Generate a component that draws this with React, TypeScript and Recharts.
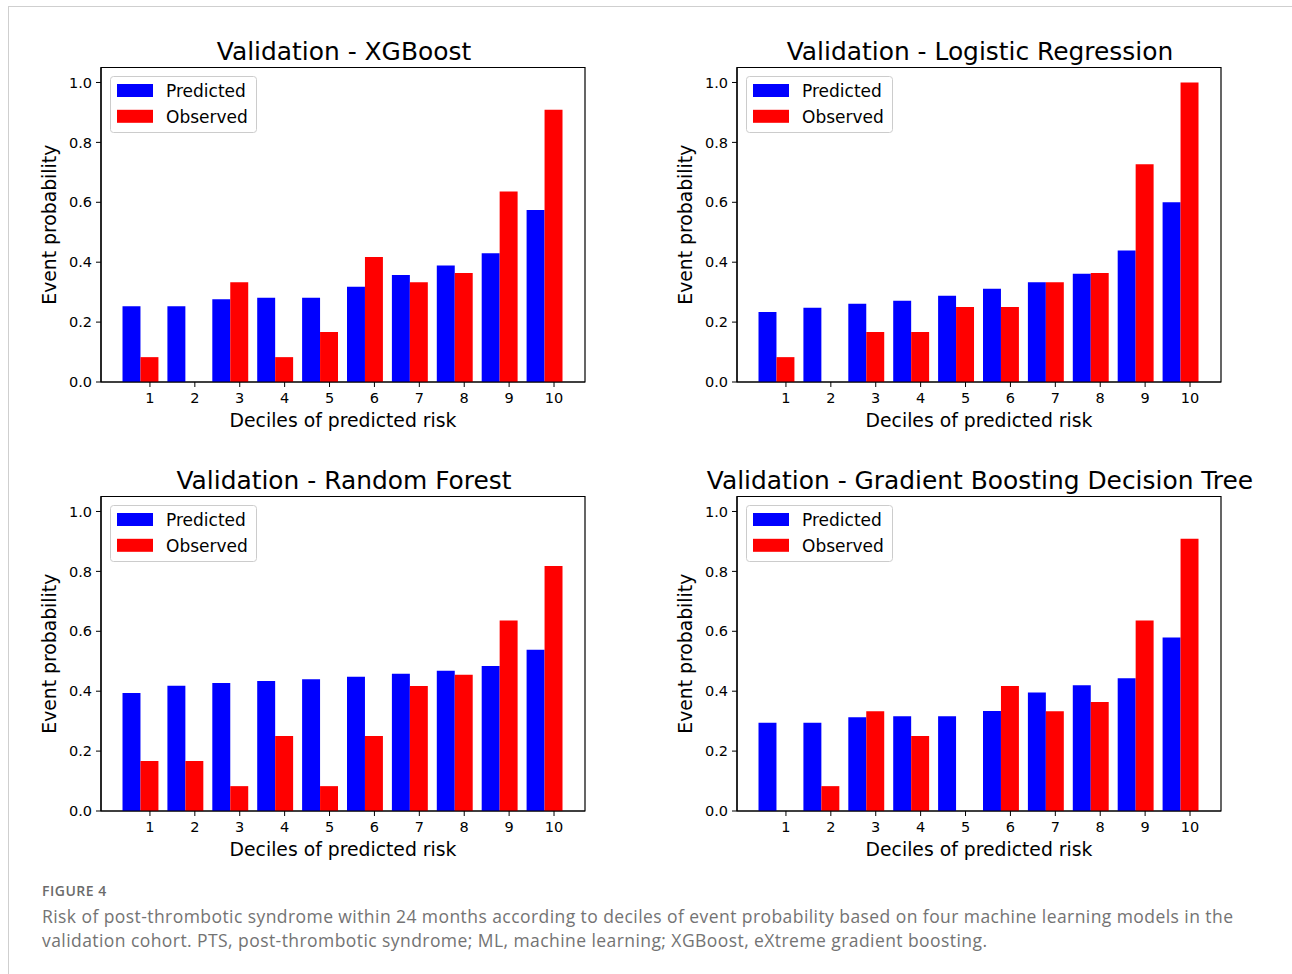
import React from "react";
import { BarChart, Bar, XAxis, YAxis, Legend, ReferenceArea } from "recharts";

// deciles of predicted risk and y ticks
const DECILES = [1, 2, 3, 4, 5, 6, 7, 8, 9, 10];
const Y_TICKS = [0, 0.2, 0.4, 0.6, 0.8, 1.0];

// values
const XGB_PRED = [0.253, 0.253, 0.276, 0.281, 0.281, 0.318, 0.357, 0.389, 0.43, 0.574];
const XGB_OBS = [0.083, 0, 0.333, 0.083, 0.167, 0.417, 0.333, 0.364, 0.636, 0.909];
const LR_PRED = [0.234, 0.248, 0.261, 0.271, 0.288, 0.311, 0.333, 0.361, 0.439, 0.6];
const LR_OBS = [0.083, 0, 0.167, 0.167, 0.25, 0.25, 0.333, 0.364, 0.727, 1.0];
const RF_PRED = [0.394, 0.418, 0.427, 0.434, 0.44, 0.448, 0.458, 0.468, 0.484, 0.538];
const RF_OBS = [0.167, 0.167, 0.083, 0.25, 0.083, 0.25, 0.417, 0.455, 0.636, 0.818];
const GBDT_PRED = [0.295, 0.295, 0.313, 0.316, 0.316, 0.334, 0.396, 0.42, 0.443, 0.579];
const GBDT_OBS = [0, 0.083, 0.333, 0.25, 0, 0.417, 0.333, 0.364, 0.636, 0.909];

const SERIES = [
  { key: "predicted", name: "Predicted", color: "#0000ff" },
  { key: "observed", name: "Observed", color: "#ff0000" },
];

const FONT = "'DejaVu Sans', sans-serif";
const X_DOMAIN: [number, number] = [-0.09, 10.69];
const Y_DOMAIN: [number, number] = [0, 1.05];

const CHART_W = 650;
const CHART_H = 440;
const MARGIN = { top: 67.5, right: 65, bottom: 18, left: 41 };
const Y_AXIS_W = 60;
const X_AXIS_H = 40;
const PLOT_W = CHART_W - MARGIN.left - Y_AXIS_W - MARGIN.right;
// matplotlib bars are 0.4 data units wide
const BAR_W = (PLOT_W / (X_DOMAIN[1] - X_DOMAIN[0])) * 0.4;

const SPINE = { stroke: "#000", strokeWidth: 1.2 };
const TICK = { fill: "#000", fontSize: 14.5, fontFamily: FONT };

// blue bar sits at decile - 0.4, red bar at decile: the pair is centred at decile - 0.2
const makeRows = (pred: number[], obs: number[]) =>
  DECILES.map((d, i) => ({ pos: d - 0.2, predicted: pred[i], observed: obs[i] }));

const PANELS = [
  { title: "Validation - XGBoost", pred: XGB_PRED, obs: XGB_OBS, left: 0, top: 0 },
  { title: "Validation - Logistic Regression", pred: LR_PRED, obs: LR_OBS, left: 636, top: 0 },
  { title: "Validation - Random Forest", pred: RF_PRED, obs: RF_OBS, left: 0, top: 429 },
  { title: "Validation - Gradient Boosting Decision Tree", pred: GBDT_PRED, obs: GBDT_OBS, left: 636, top: 429 },
];

function LegendBox({ payload }: any) {
  const order = SERIES.map((s) => s.name);
  const items = [...(payload || [])].sort((a: any, b: any) => order.indexOf(a.value) - order.indexOf(b.value));
  return (
    <svg width={147} height={57} style={{ display: "block" }}>
      <rect x={0.5} y={0.5} width={146} height={56} rx={3} fill="rgba(255,255,255,0.8)" stroke="#cccccc" />
      {items.map((p: any, i: number) => (
        <g key={p.value}>
          <rect x={7} y={8 + i * 25.8} width={36} height={13} fill={p.color} />
          <text x={56} y={20.7 + i * 25.8} fontSize={17} fontFamily={FONT} fill="#000">
            {p.value}
          </text>
        </g>
      ))}
    </svg>
  );
}

function Panel({ title, pred, obs }: { title: string; pred: number[]; obs: number[] }) {
  const rows = makeRows(pred, obs);
  return (
    <BarChart width={CHART_W} height={CHART_H} data={rows} margin={MARGIN} barGap={0}>
      <XAxis
        dataKey="pos"
        type="number"
        domain={X_DOMAIN}
        ticks={DECILES}
        allowDataOverflow
        height={X_AXIS_H}
        tickSize={5}
        tickMargin={6}
        tick={TICK}
        tickLine={{ stroke: "#000" }}
        axisLine={SPINE}
        label={(props: any) => {
          const vb = props.viewBox;
          return (
            <text x={vb.x + vb.width / 2} y={vb.y + 44.5} textAnchor="middle" fontSize={18.8} fontFamily={FONT} fill="#000">
              Deciles of predicted risk
            </text>
          );
        }}
      />
      <YAxis
        type="number"
        domain={Y_DOMAIN}
        ticks={Y_TICKS}
        allowDataOverflow
        width={Y_AXIS_W}
        tickSize={5}
        tickMargin={4}
        tick={TICK}
        tickLine={{ stroke: "#000" }}
        tickFormatter={(v: number) => v.toFixed(1)}
        axisLine={SPINE}
        label={(props: any) => {
          const vb = props.viewBox;
          const x = vb.x + 14.5;
          const y = vb.y + vb.height / 2;
          return (
            <text x={x} y={y} transform={`rotate(-90, ${x}, ${y})`} textAnchor="middle" fontSize={18.8} fontFamily={FONT} fill="#000">
              Event probability
            </text>
          );
        }}
      />
      {/* axes frame (all four spines) with the panel title above it */}
      <ReferenceArea
        x1={X_DOMAIN[0]}
        x2={X_DOMAIN[1]}
        y1={Y_DOMAIN[0]}
        y2={Y_DOMAIN[1]}
        ifOverflow="visible"
        fill="none"
        fillOpacity={0}
        stroke="#000"
        strokeWidth={1.2}
        label={(props: any) => {
          const vb = props.viewBox;
          return (
            <text x={vb.x + vb.width / 2 + 1} y={vb.y - 8} textAnchor="middle" fontSize={24.9} fontFamily={FONT} fill="#000">
              {title}
            </text>
          );
        }}
      />
      <Legend
        layout="vertical"
        align="center"
        verticalAlign="middle"
        wrapperStyle={{ left: 109.5, top: 75.5, width: 147, height: 57 }}
        content={(p: any) => <LegendBox payload={p.payload} />}
      />
      {SERIES.map((s) => (
        <Bar key={s.key} dataKey={s.key} name={s.name} fill={s.color} barSize={BAR_W} isAnimationActive={false} />
      ))}
    </BarChart>
  );
}

export default function App() {
  return (
    <div style={{ position: "absolute", left: 0, top: 0, width: 1292, height: 974, overflow: "hidden", background: "#fff" }}>
      <div
        style={{
          position: "absolute",
          left: 8,
          top: 6,
          width: 1300,
          height: 1000,
          borderLeft: "1px solid #cfcfcf",
          borderTop: "1px solid #cfcfcf",
        }}
      />
      {PANELS.map((p) => (
        <div key={p.title} style={{ position: "absolute", left: p.left, top: p.top }}>
          <Panel title={p.title} pred={p.pred} obs={p.obs} />
        </div>
      ))}
      <div
        style={{
          position: "absolute",
          left: 42,
          top: 883,
          fontFamily: "'Open Sans', sans-serif",
          fontSize: 14,
          letterSpacing: 0.5,
          fontWeight: 600,
          lineHeight: "16px",
          color: "#6b6b6b",
        }}
      >
        FIGURE 4
      </div>
      <div
        style={{
          position: "absolute",
          left: 42,
          top: 904,
          fontFamily: "'Open Sans', sans-serif",
          fontSize: 17.5,
          letterSpacing: 0.43,
          lineHeight: "24px",
          color: "#737373",
          whiteSpace: "nowrap",
        }}
      >
        Risk of post-thrombotic syndrome within 24 months according to deciles of event probability based on four machine learning models in the
        <br />
        validation cohort. PTS, post-thrombotic syndrome; ML, machine learning; XGBoost, eXtreme gradient boosting.
      </div>
    </div>
  );
}
